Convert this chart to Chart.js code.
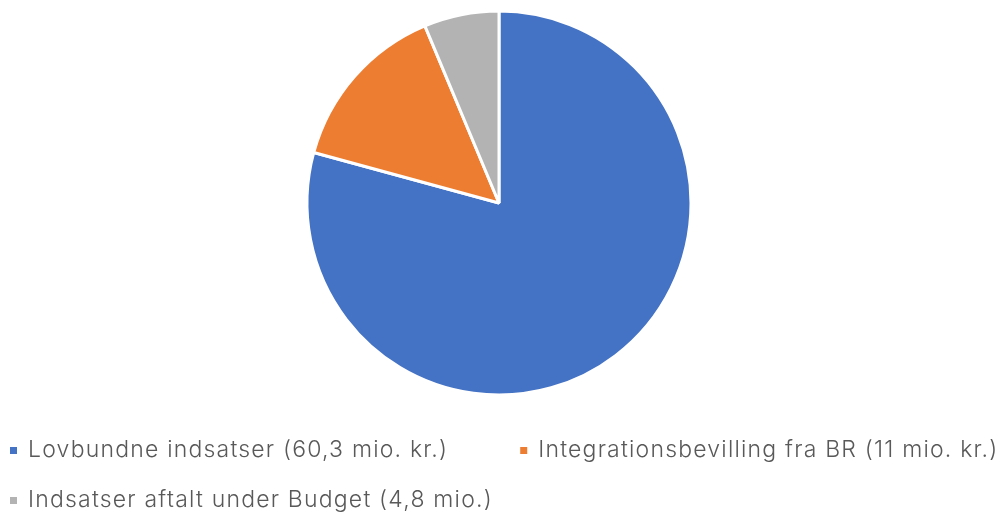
<!DOCTYPE html>
<html><head><meta charset="utf-8">
<script src="https://cdn.jsdelivr.net/npm/chart.js@4"></script>
<style>html,body{margin:0;padding:0;background:#fff}#wrap{width:1000px;height:513px}</style>
</head><body><div id="wrap"><canvas id="c" width="1000" height="513"></canvas></div>
<script>
const categories = ["Lovbundne indsatser (60,3 mio. kr.)", "Integrationsbevilling fra BR (11 mio. kr.)", "Indsatser aftalt under Budget (4,8 mio.)"];
const values = [60.3, 11, 4.8];
const colors = ["#4472C4", "#ED7D31", "#B3B3B3"];

const FONT = "300 23px Inter";
const legendPlugin = {
  id: 'customLegend',
  afterDraw(chart) {
    const ctx = chart.ctx;
    ctx.save();
    ctx.font = FONT;
    ctx.letterSpacing = '1.2px';
    ctx.textBaseline = 'alphabetic';
    const rows = [[0, 1], [2]];
    const baselines = [457, 507];
    rows.forEach((row, r) => {
      let x = 10;
      row.forEach(i => {
        const y = baselines[r];
        ctx.fillStyle = chart.data.datasets[0].backgroundColor[i];
        ctx.fillRect(x, y - 10, 7, 7);
        ctx.fillStyle = '#595959';
        const t = chart.data.labels[i];
        ctx.fillText(t, x + 18, y);
        x += 18 + ctx.measureText(t).width + 72;
      });
    });
    ctx.restore();
  }
};

new Chart(document.getElementById('c'), {
  type: 'pie',
  data: {
    labels: categories,
    datasets: [{ data: values, backgroundColor: colors, borderColor: '#ffffff', borderWidth: 3 }]
  },
  options: {
    responsive: false,
    animation: false,
    radius: 192,
    layout: { padding: { top: 12, bottom: 119, left: 0, right: 2 } },
    plugins: { legend: { display: false }, tooltip: { enabled: false } }
  },
  plugins: [legendPlugin]
});
</script></body></html>
